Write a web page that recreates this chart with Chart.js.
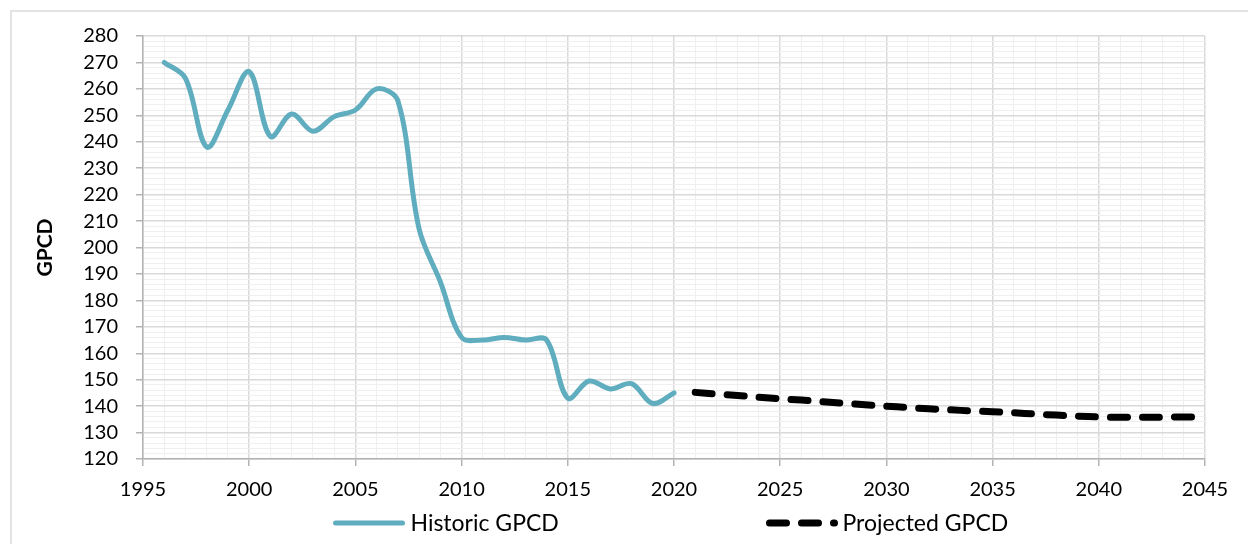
<!DOCTYPE html>
<html>
<head>
<meta charset="utf-8">
<script src="https://cdn.jsdelivr.net/npm/chart.js@4.4.1/dist/chart.umd.min.js"></script>
<style>
  html, body { margin: 0; padding: 0; background: #ffffff; width: 1248px; height: 544px; overflow: hidden; }
  #frame { position: absolute; left: 10px; top: 10px; width: 1400px; height: 600px;
           border-left: 2px solid #e3e3e3; border-top: 2px solid #e3e3e3; }
  #wrap { position: absolute; left: 0; top: 0; width: 1352px; height: 544px; }
</style>
</head>
<body>
<div id="frame"></div>
<div id="wrap"><canvas id="gpcdChart" width="1352" height="544"></canvas></div>
<script>
// Gallons per capita per day: recorded history and the planning projection
const historicYears = [1996, 1997, 1998, 1999, 2000, 2001, 2002, 2003, 2004, 2005, 2006, 2007, 2008,
                       2009, 2010, 2011, 2012, 2013, 2014, 2015, 2016, 2017, 2018, 2019, 2020];
const historicGpcd  = [270, 264, 238, 252, 266.5, 242, 250.5, 244, 249.5, 252, 260, 255.5, 207,
                       187, 166, 165, 166, 165, 165, 143, 149.5, 146.5, 148.5, 141, 145];

const projectedYears = [2021, 2022, 2023, 2024, 2025, 2026, 2027, 2028, 2029, 2030, 2031, 2032, 2033,
                        2034, 2035, 2036, 2037, 2038, 2039, 2040, 2041, 2042, 2043, 2044, 2045];
const projectedGpcd  = [145.2, 144.6, 144.0, 143.4, 142.8, 142.3, 141.7, 141.1, 140.5, 140.0, 139.5, 139.0, 138.6,
                        138.2, 137.9, 137.5, 137.0, 136.6, 136.2, 135.9, 135.8, 135.8, 135.8, 135.9, 135.9];

const seriesLabels = ['Historic GPCD', 'Projected GPCD'];
const yAxisTitle = 'GPCD';

// Labelled (major) ticks; the unlabelled steps in between carry the light minor grid
const xMajorTicks = [1995, 2000, 2005, 2010, 2015, 2020, 2025, 2030, 2035, 2040, 2045];
const yMajorTicks = [120, 130, 140, 150, 160, 170, 180, 190, 200, 210, 220, 230, 240, 250, 260, 270, 280];

const toPoints = (xs, ys) => xs.map((x, i) => ({ x: x, y: ys[i] }));

const MAJOR_GRID = '#d9d9d9';
const MINOR_GRID = '#efefef';
const AXIS_LINE = '#b3b3b3';
const FONT_FAMILY = 'Lato, "Open Sans", sans-serif';

// Legend spread across the bottom, with each sample drawn in its series' own stroke style
const spreadLegend = {
  id: 'spreadLegend',
  afterDraw(chart, args, opts) {
    const ctx = chart.ctx;
    ctx.save();
    ctx.font = opts.font;
    ctx.textBaseline = 'middle';
    ctx.fillStyle = opts.color;
    chart.data.datasets.forEach((ds, i) => {
      const item = opts.items[i];
      ctx.save();
      ctx.strokeStyle = ds.borderColor;
      ctx.lineWidth = ds.borderWidth;
      ctx.lineCap = ds.borderCapStyle || 'butt';
      ctx.setLineDash(ds.borderDash || []);
      ctx.beginPath();
      ctx.moveTo(item.x, opts.y);
      ctx.lineTo(item.x + item.w, opts.y);
      ctx.stroke();
      ctx.restore();
      ctx.fillText(ds.label, item.x + item.w + opts.gap, opts.y + 1);
    });
    ctx.restore();
  }
};

function gridFor(majors) {
  return {
    color: c => (c.tick && majors.includes(c.tick.value)) ? MAJOR_GRID : MINOR_GRID,
    lineWidth: c => (c.tick && majors.includes(c.tick.value)) ? 1.5 : 1,
    tickColor: c => (c.tick && majors.includes(c.tick.value)) ? AXIS_LINE : 'rgba(0,0,0,0)',
    tickLength: 7,
    tickWidth: 1.5,
    drawTicks: true
  };
}

new Chart(document.getElementById('gpcdChart'), {
  type: 'line',
  data: {
    datasets: [
      {
        label: seriesLabels[0],
        data: toPoints(historicYears, historicGpcd),
        borderColor: '#5fadbe',
        borderWidth: 5,
        borderCapStyle: 'round',
        borderJoinStyle: 'round',
        tension: 0.35,
        pointRadius: 0,
        fill: false
      },
      {
        label: seriesLabels[1],
        data: toPoints(projectedYears, projectedGpcd),
        borderColor: '#000000',
        borderWidth: 7,
        borderDash: [17, 15],
        borderCapStyle: 'round',
        borderJoinStyle: 'round',
        tension: 0.35,
        pointRadius: 0,
        fill: false
      }
    ]
  },
  options: {
    responsive: false,
    animation: false,
    devicePixelRatio: 1,
    layout: { padding: { left: 29, right: 147, top: 36, bottom: 43 } },
    plugins: {
      legend: { display: false },
      tooltip: { enabled: false },
      spreadLegend: {
        y: 523,
        gap: 8,
        font: '23px ' + FONT_FAMILY,
        color: '#000000',
        items: [ { x: 335.5, w: 67 }, { x: 769.5, w: 65 } ]
      }
    },
    scales: {
      x: {
        type: 'linear',
        min: 1995,
        max: 2045,
        afterFit: s => { s.height = 42; },
        ticks: {
          stepSize: 1,
          autoSkip: false,
          maxRotation: 0,
          padding: 12,
          color: '#000000',
          font: { family: FONT_FAMILY, size: 20 },
          callback: v => xMajorTicks.includes(v) ? String(v) : ''
        },
        grid: gridFor(xMajorTicks),
        border: { color: AXIS_LINE, width: 1.5 }
      },
      y: {
        type: 'linear',
        min: 120,
        max: 280,
        afterFit: s => { s.width = 114; },
        ticks: {
          stepSize: 2,
          autoSkip: false,
          padding: 18,
          color: '#000000',
          font: { family: FONT_FAMILY, size: 20 },
          callback: v => yMajorTicks.includes(v) ? String(v) : ''
        },
        grid: gridFor(yMajorTicks),
        border: { color: AXIS_LINE, width: 1.5 },
        title: {
          display: true,
          text: yAxisTitle,
          color: '#000000',
          font: { family: FONT_FAMILY, size: 21, weight: 'bold' },
          padding: { top: 4, bottom: 4 }
        }
      }
    }
  },
  plugins: [spreadLegend]
});
</script>
</body>
</html>
